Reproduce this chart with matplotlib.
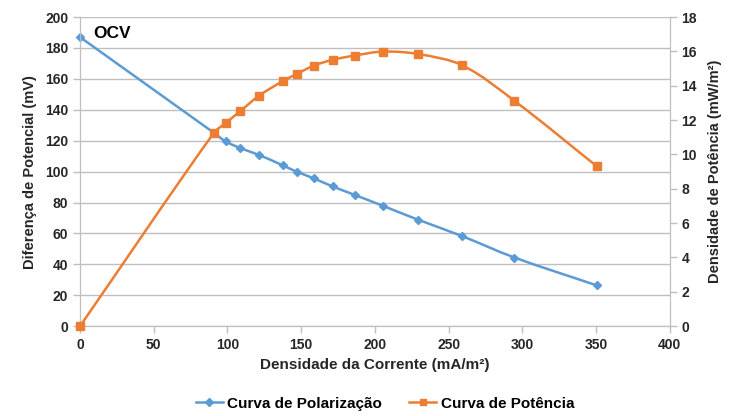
import matplotlib
matplotlib.use("Agg")
import matplotlib.pyplot as plt
from matplotlib.path import Path
from matplotlib.patches import PathPatch
from matplotlib.lines import Line2D
import numpy as np

# densidade de corrente (mA/m2), tensao (mV), potencia (mW/m2)
corrente = [0, 90.8, 98.8, 108.7, 121.6, 137.6, 147.1, 158.6, 171.3, 186.4,
            205.6, 229.2, 258.8, 294.7, 350.7]
tensao = [187.0, 125.1, 119.5, 115.2, 110.7, 104.0, 99.9, 95.6, 90.4, 84.9,
          77.8, 68.9, 58.4, 44.4, 26.3]
potencia = [0.0, 11.26, 11.83, 12.52, 13.43, 14.27, 14.69, 15.17, 15.51, 15.76,
            15.99, 15.85, 15.21, 13.12, 9.30]

AZUL = "#5B9BD5"
LARANJA = "#ED7D31"
GRID = "#BFBFBF"
TXT = "#262626"
plt.rcParams["font.family"] = ["Liberation Sans", "DejaVu Sans"]


def curva_suave(ax, xs, ys, cor, escala):
    """Linha suavizada (bezier cubica) passando pelos pontos, sem overshoot."""
    s = np.array(escala, dtype=float)
    p = np.column_stack([xs, ys]).astype(float) / s
    n = len(p)
    tang = []
    for i in range(n):
        a = p[max(i - 1, 0)]
        b = p[min(i + 1, n - 1)]
        d = b - a
        tang.append(d / np.hypot(*d))
    verts = [p[0]]
    codes = [Path.MOVETO]
    for i in range(n - 1):
        L = np.hypot(*(p[i + 1] - p[i])) / 3.0
        verts += [p[i] + tang[i] * L, p[i + 1] - tang[i + 1] * L, p[i + 1]]
        codes += [Path.CURVE4] * 3
    verts = np.array(verts) * s
    ax.add_patch(PathPatch(Path(verts, codes), fill=False, edgecolor=cor,
                           lw=1.8, zorder=3, capstyle="round", clip_on=False))


fig = plt.figure(figsize=(7.55, 4.16), dpi=100)
ax = fig.add_axes([0.106, 0.216, 0.781, 0.743])
ax2 = ax.twinx()

curva_suave(ax, corrente, tensao, AZUL, (400, 200))
ax.plot(corrente, tensao, ls="none", marker="D", ms=4.5, color=AZUL, zorder=4,
        clip_on=False)
curva_suave(ax2, corrente, potencia, LARANJA, (400, 18))
ax2.plot(corrente, potencia, ls="none", marker="s", ms=5.5, color=LARANJA,
         zorder=4, clip_on=False)

ax.set_xlim(0, 400)
ax.set_ylim(0, 200)
ax2.set_ylim(0, 18)
ax.set_xticks(range(0, 401, 50))
ax.set_yticks(range(0, 201, 20))
ax2.set_yticks(range(0, 19, 2))
ax.grid(axis="y", color=GRID, lw=1.0)
ax.set_axisbelow(True)

for a in (ax, ax2):
    for s in a.spines.values():
        s.set_color(GRID)
    a.spines["top"].set_visible(False)
    a.tick_params(colors=GRID, length=5, width=1, labelcolor=TXT, labelsize=10)
    for lab in a.get_xticklabels() + a.get_yticklabels():
        lab.set_fontweight("bold")

ax.set_xlabel("Densidade da Corrente (mA/m²)", fontsize=11, fontweight="bold",
              color=TXT, labelpad=4)
ax.set_ylabel("Diferença de Potencial (mV)", fontsize=10.5, fontweight="bold",
              color=TXT, labelpad=6)
ax2.set_ylabel("Densidade de Potência (mW/m²)", fontsize=10.5, fontweight="bold",
               color=TXT, labelpad=8)

ax.text(0.022, 0.97, "OCV", transform=ax.transAxes, fontsize=12.5,
        fontweight="bold", ha="left", va="top", color="black")

handles = [Line2D([], [], color=AZUL, marker="D", ms=4, lw=1.8),
           Line2D([], [], color=LARANJA, marker="s", ms=5, lw=1.8)]
fig.legend(handles, ["Curva de Polarização", "Curva de Potência"],
           loc="center", bbox_to_anchor=(0.51, 0.03), ncol=2, frameon=False,
           handlelength=1.75, handletextpad=0.3, columnspacing=1.8,
           prop={"size": 11, "weight": "bold"})

fig.savefig("out.png", dpi=100)
